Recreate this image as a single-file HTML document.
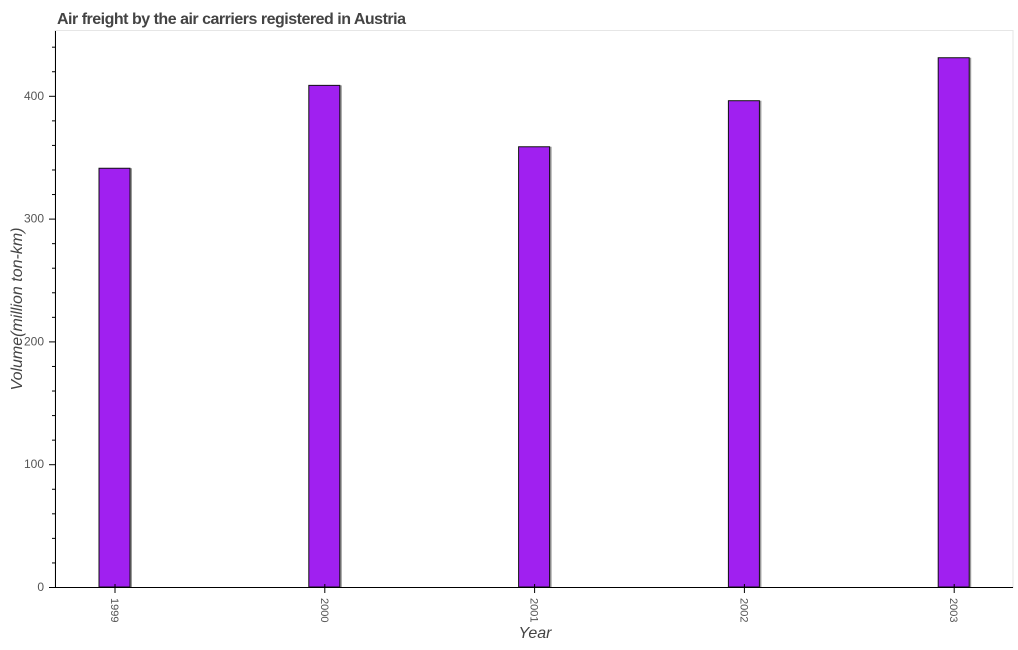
<!DOCTYPE html>
<html><head><meta charset="utf-8"><style>
html,body{margin:0;padding:0;background:#fff;}
svg{display:block;font-family:"Liberation Sans",sans-serif;}
</style></head><body>
<svg id="chart" width="1018" height="650">
<text x="57" y="24" font-size="16" font-weight="bold" fill="#444" textLength="349">Air freight by the air carriers registered in Austria</text>
<rect x="55" y="30.5" width="958" height="557" fill="none" stroke="#e6e6e6"/>
<g id="bars"></g>
<g id="axes"></g>
<text transform="translate(22,309) rotate(-90)" text-anchor="middle" font-size="16" font-style="italic" fill="#444">Volume(million ton-km)</text>
<text x="535" y="638" text-anchor="middle" font-size="16" font-style="italic" fill="#444">Year</text>
</svg>
<script>
const categories = ["1999","2000","2001","2002","2003"];
const values = [341, 408.5, 358.5, 396, 431];
const yTicks = [0,100,200,300,400];
const NS="http://www.w3.org/2000/svg";
const y0=587, pxPer=1.228;
function y(v){return y0 - v*pxPer;}
function x(i){return 115 + i*209.8;}
const bars=document.getElementById('bars'), axes=document.getElementById('axes');
function mk(tag,attrs,parent){const e=document.createElementNS(NS,tag);for(const k in attrs)e.setAttribute(k,attrs[k]);parent.appendChild(e);return e;}
values.forEach((v,i)=>{
  const sh=mk('rect',{x:x(i)-15,y:y(v),width:32,height:y0-y(v),fill:'#999'},bars);
  
  
  const r=mk('rect',{x:x(i)-16,y:y(v),width:31,height:y0-y(v),fill:'#a020f0',stroke:'#111','stroke-width':1},bars);
  
  
  const t=mk('line',{x1:x(i),x2:x(i),y1:y0-3,y2:y0+6,stroke:'#000'},axes);
  
  
  const l=mk('text',{transform:`translate(${x(i)-4},598) rotate(90)`,'font-size':11,fill:'#555'},axes);
  l.textContent=categories[i];
  
  
});
const ya=mk('line',{x1:55.5,x2:55.5,y1:31,y2:y0,stroke:'#000'},axes);


const xa=mk('line',{x1:50,x2:1013,y1:y0+0.5,y2:y0+0.5,stroke:'#000'},axes);


for(let v=0; v<=440; v+=20){
  const major = yTicks.includes(v);
  const tk=mk('line',{x1:major?49:52,x2:55,y1:y(v)+0.5,y2:y(v)+0.5,stroke:'#000'},axes);
  
  
}
yTicks.forEach(v=>{
  const t=mk('text',{x:44,y:y(v)+4,'text-anchor':'end','font-size':12,fill:'#555'},axes);
  t.textContent=v;
  
  
});
</script>
</body></html>
